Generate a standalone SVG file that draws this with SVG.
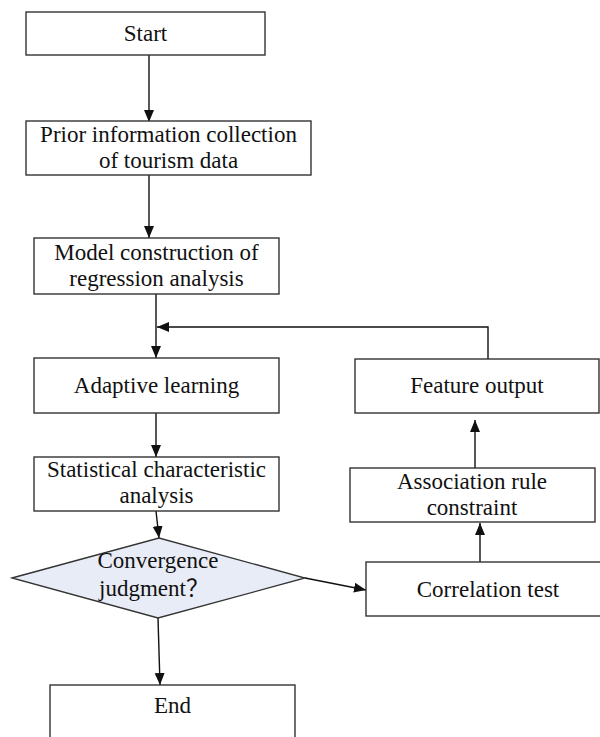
<svg xmlns="http://www.w3.org/2000/svg" width="600" height="737" viewBox="0 0 600 737">
  <style>
    .box { fill: #ffffff; stroke: #333333; stroke-width: 1.4; }
    .dec { fill: #e8ecf6; stroke: #333333; stroke-width: 1.3; }
    .lbl { font-family: "Liberation Serif", "Times New Roman", "Noto Sans CJK SC", serif; font-size: 23px; fill: #111111; text-anchor: middle; }
    .edge { fill: none; stroke: #111111; stroke-width: 1.4; }
  </style>
  <defs>
    <marker id="arrow" markerUnits="userSpaceOnUse" markerWidth="13" markerHeight="11" refX="12" refY="5" orient="auto">
      <path d="M0,0 L12,5 L0,10 Z" fill="#111111"/>
    </marker>
  </defs>
  <rect width="600" height="737" fill="#ffffff"/>

  <g id="connectors">
    <line class="edge" x1="149" y1="55" x2="149" y2="122" marker-end="url(#arrow)"/>
    <line class="edge" x1="149" y1="175" x2="149" y2="238" marker-end="url(#arrow)"/>
    <line class="edge" x1="156" y1="294" x2="156" y2="358" marker-end="url(#arrow)"/>
    <line class="edge" x1="156" y1="413" x2="156" y2="457" marker-end="url(#arrow)"/>
    <line class="edge" x1="156" y1="511" x2="159" y2="538" marker-end="url(#arrow)"/>
    <line class="edge" x1="158" y1="618" x2="160" y2="685" marker-end="url(#arrow)"/>
    <line class="edge" x1="305" y1="578" x2="366" y2="590" marker-end="url(#arrow)"/>
    <line class="edge" x1="480" y1="562" x2="480" y2="523" marker-end="url(#arrow)"/>
    <line class="edge" x1="475" y1="468" x2="475" y2="420" marker-end="url(#arrow)"/>
    <polyline class="edge" points="488,359 488,327 157,327" marker-end="url(#arrow)"/>
  </g>

  <g id="start">
    <rect class="box" x="26" y="12" width="239" height="43"/>
    <text class="lbl" x="145.5" y="41">Start</text>
  </g>
  <g id="prior-information">
    <rect class="box" x="26" y="121" width="285" height="54"/>
    <text class="lbl" x="168.5" y="142">Prior information collection</text>
    <text class="lbl" x="168.5" y="168">of tourism data</text>
  </g>
  <g id="model-construction">
    <rect class="box" x="34" y="238" width="245" height="56"/>
    <text class="lbl" x="156.5" y="260">Model construction of</text>
    <text class="lbl" x="156.5" y="286">regression analysis</text>
  </g>
  <g id="adaptive-learning">
    <rect class="box" x="34" y="358" width="245" height="55"/>
    <text class="lbl" x="156.5" y="393">Adaptive learning</text>
  </g>
  <g id="statistical-analysis">
    <rect class="box" x="34" y="457" width="245" height="54"/>
    <text class="lbl" x="156.5" y="477">Statistical characteristic</text>
    <text class="lbl" x="156.5" y="503">analysis</text>
  </g>
  <g id="convergence">
    <polygon class="dec" points="12,578 159,538 305,578 158,618"/>
    <text class="lbl" x="158" y="568">Convergence</text>
    <text class="lbl" x="154" y="596">judgment？</text>
  </g>
  <g id="end">
    <rect class="box" x="50" y="685" width="245" height="60"/>
    <text class="lbl" x="172.5" y="713">End</text>
  </g>
  <g id="correlation-test">
    <rect class="box" x="366" y="562" width="250" height="54"/>
    <text class="lbl" x="488" y="597">Correlation test</text>
  </g>
  <g id="association-rule">
    <rect class="box" x="350" y="468" width="245" height="54"/>
    <text class="lbl" x="472" y="489">Association rule</text>
    <text class="lbl" x="472" y="515">constraint</text>
  </g>
  <g id="feature-output">
    <rect class="box" x="355" y="359" width="244" height="54"/>
    <text class="lbl" x="477" y="393">Feature output</text>
  </g>
</svg>
